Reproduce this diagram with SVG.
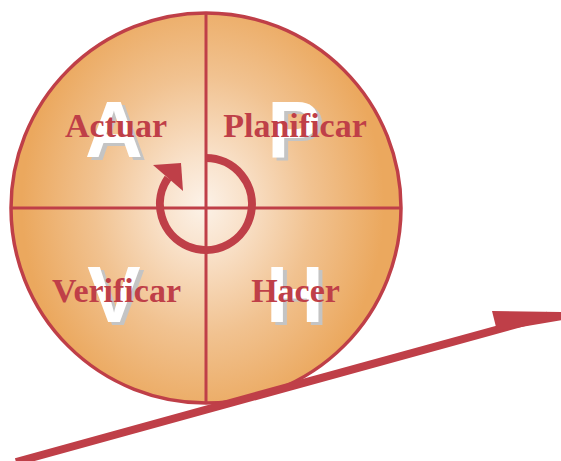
<svg xmlns="http://www.w3.org/2000/svg" width="561" height="461" viewBox="0 0 561 461">
  <defs>
    <radialGradient id="bg" gradientUnits="userSpaceOnUse" cx="203" cy="205" r="197" gradientTransform="translate(203 205) scale(0.92 1.1) translate(-203 -205)">
      <stop offset="0" stop-color="#FCF2E8"/>
      <stop offset="0.22" stop-color="#F9E2CB"/>
      <stop offset="0.6" stop-color="#F1C290"/>
      <stop offset="1" stop-color="#EBA85E"/>
    </radialGradient>
    <style>
      .red { stroke: #BF3F48; fill: none; }
      .big { font-family: "Liberation Sans", Arial, sans-serif; font-weight: bold; font-size: 80px; text-anchor: middle; }
      .shadow { fill: #C4C4C4; }
      .white { fill: #FFFFFF; }
      .label { font-family: "Liberation Serif", "Times New Roman", serif; font-weight: bold; font-size: 34px; fill: #BF3F48; text-anchor: middle; }
    </style>
  </defs>

  <g id="wheel">
    <circle cx="206" cy="208" r="195" class="red" stroke-width="3.5" style="fill:url(#bg)"/>
    <line x1="206" y1="13" x2="206" y2="403" class="red" stroke-width="3"/>
    <line x1="11" y1="208" x2="401" y2="208" class="red" stroke-width="3"/>
  </g>

  <g id="node-actuar">
    <text x="118" y="160" class="big shadow">A</text>
    <text x="114" y="157" class="big white">A</text>
    <text x="116" y="137" class="label">Actuar</text>
  </g>
  <g id="node-planificar">
    <text x="298" y="160" class="big shadow">P</text>
    <text x="294" y="157" class="big white">P</text>
    <text x="295" y="137" class="label">Planificar</text>
  </g>
  <g id="node-verificar">
    <text x="118" y="325" class="big shadow">V</text>
    <text x="114" y="322" class="big white">V</text>
    <text x="116.5" y="302" class="label">Verificar</text>
  </g>
  <g id="node-hacer">
    <text x="299" y="325" class="big shadow">H</text>
    <text x="295" y="322" class="big white">H</text>
    <text x="295.5" y="302" class="label">Hacer</text>
  </g>

  <g id="connectors">
    <path d="M206 158 A46 46 0 1 1 168 178" class="red" stroke-width="8"/>
    <polygon points="153,165 181,163 183,191" fill="#BF3F48"/>
    <line x1="16" y1="462" x2="548" y2="315.6" class="red" stroke-width="8"/>
    <polygon points="492,311 562,312 562,320 497,331" fill="#BF3F48"/>
  </g>
</svg>
